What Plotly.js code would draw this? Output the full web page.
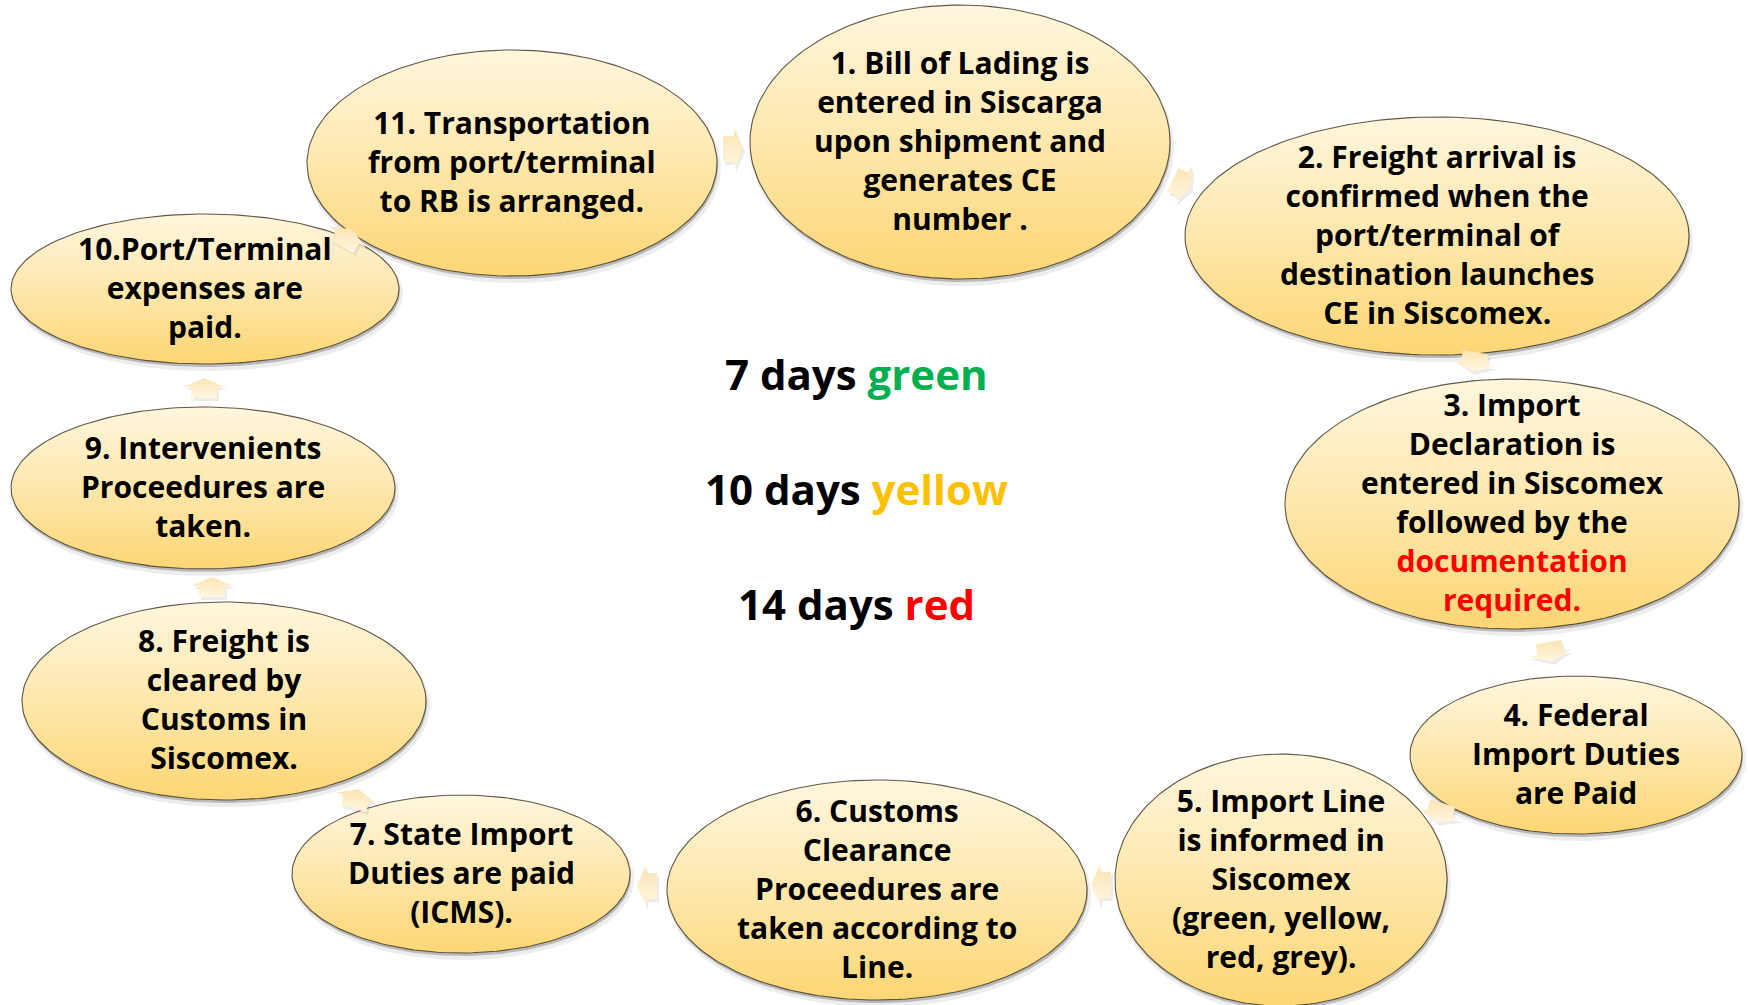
<!DOCTYPE html>
<html>
<head>
<meta charset="utf-8">
<script src="https://cdn.plot.ly/plotly-3.0.1.min.js"></script>
<style>
  html, body { margin: 0; padding: 0; background: #ffffff; }
  #chart { width: 1748px; height: 1005px; }
</style>
</head>
<body>
<div id="chart"></div>
<script>
// ---------- DATA ----------
const stepNumbers = ["1.", "2.", "3.", "4.", "5.", "6.", "7.", "8.", "9.", "10.", "11."];
const stepTexts = [
  "Bill of Lading is<br>entered in Siscarga<br>upon shipment and<br>generates CE<br>number .",
  "Freight arrival is<br>confirmed when the<br>port/terminal of<br>destination launches<br>CE in Siscomex.",
  "Import<br>Declaration is<br>entered in Siscomex<br>followed by the<br><span style='color:#FF0000'>documentation</span><br><span style='color:#FF0000'>required.</span>",
  "Federal<br>Import Duties<br>are Paid",
  "Import Line<br>is informed in<br>Siscomex<br>(green, yellow,<br>red, grey).",
  "Customs<br>Clearance<br>Proceedures are<br>taken according to<br>Line.",
  "State Import<br>Duties are paid<br>(ICMS).",
  "Freight is<br>cleared by<br>Customs in<br>Siscomex.",
  "Intervenients<br>Proceedures are<br>taken.",
  "Port/Terminal<br>expenses are<br>paid.",
  "Transportation<br>from port/terminal<br>to RB is arranged."
];
const leadDays = [7, 10, 14];
const leadNames = ["green", "yellow", "red"];
const leadColors = ["#00B050", "#FFC000", "#FF0000"];

// ---------- GEOMETRY (pixel layout of the diagram) ----------
// [centre x, centre y, radius x, radius y]
const nodeGeom = [
  [960, 142, 210, 137],
  [1437, 236, 252, 119],
  [1512, 504, 227, 125],
  [1576, 755, 166, 79],
  [1281, 880, 166, 126],
  [877, 890, 210, 110],
  [461, 874, 169, 79],
  [224, 701, 202, 99],
  [203, 488, 192, 81],
  [205, 289, 194, 75],
  [512, 163, 205, 113]
];
// connector arrows: [x, y, angle deg (0 = right, 90 = down)]
const arrowGeom = [
  [1182, 184, 25],
  [1474, 362, 100],
  [1550, 652, 80],
  [1440, 813, 105],
  [1101, 885, 180],
  [647, 886, 180],
  [356, 799, -75],
  [212, 587, -90],
  [204, 388, -90],
  [347, 238, -60],
  [733, 149, 0]
];
const legendY = [373, 488, 603];
const legendX = 856;

// ---------- BUILD ----------
const W = 1748, H = 1005;
const FONT = '"Open Sans", Lato, sans-serif';
const traces = [];
const annotations = [];

function ellipsePts(cx, cy, rx, ry) {
  const xs = [], ys = [];
  const n = 180;
  for (let i = 0; i <= n; i++) {
    const t = 2 * Math.PI * i / n;
    xs.push(cx + rx * Math.cos(t));
    ys.push(cy + ry * Math.sin(t));
  }
  return [xs, ys];
}

function arrowPts(cx, cy, ang) {
  const L = 20, sw = 13, hw = 21, hl = 9;
  const local = [[-L/2, -sw], [L/2 - hl, -sw], [L/2 - hl, -hw], [L/2, 0],
                 [L/2 - hl, hw], [L/2 - hl, sw], [-L/2, sw], [-L/2, -sw]];
  const a = ang * Math.PI / 180, c = Math.cos(a), s = Math.sin(a);
  const xs = [], ys = [];
  local.forEach(p => { xs.push(cx + p[0]*c - p[1]*s); ys.push(cy + p[0]*s + p[1]*c); });
  return [xs, ys];
}

// nodes
nodeGeom.forEach((g, i) => {
  const [cx, cy, rx, ry] = g;
  const s1 = ellipsePts(cx + 2, cy + 5, rx + 2, ry + 2);
  traces.push({x: s1[0], y: s1[1], mode: 'lines', fill: 'toself',
    fillcolor: 'rgba(0,0,0,0.07)', line: {width: 0}, hoverinfo: 'skip'});
  const s2 = ellipsePts(cx + 1, cy + 3, rx, ry);
  traces.push({x: s2[0], y: s2[1], mode: 'lines', fill: 'toself',
    fillcolor: 'rgba(0,0,0,0.22)', line: {width: 0}, hoverinfo: 'skip'});
  const e = ellipsePts(cx, cy, rx, ry);
  traces.push({x: e[0], y: e[1], mode: 'lines', fill: 'toself',
    fillgradient: {type: 'vertical', start: cy - ry, stop: cy + ry,
      colorscale: [[0, '#FFF6DE'], [0.45, '#FEE9B2'], [1, '#FDD674']]},
    line: {color: 'rgba(70,60,40,0.85)', width: 1.1}, hoverinfo: 'skip'});
  annotations.push({x: cx, y: cy - 2, xref: 'x', yref: 'y', showarrow: false,
    xanchor: 'center', yanchor: 'middle', align: 'center',
    text: stepNumbers[i] + (i === 9 ? '' : ' ') + stepTexts[i],
    font: {family: FONT, size: 30, color: '#000000', weight: 700}});
});

// arrows
arrowGeom.forEach(g => {
  const sh = arrowPts(g[0] + 2, g[1] + 3, g[2]);
  traces.push({x: sh[0], y: sh[1], mode: 'lines', fill: 'toself',
    fillcolor: 'rgba(0,0,0,0.08)', line: {width: 0}, hoverinfo: 'skip'});
  const p = arrowPts(g[0], g[1], g[2]);
  traces.push({x: p[0], y: p[1], mode: 'lines', fill: 'toself',
    fillgradient: {type: 'vertical', colorscale: [[0, '#FFF6E2'], [1, '#FCE4B2']]},
    line: {width: 0}, hoverinfo: 'skip'});
});

// centre legend
leadDays.forEach((d, i) => {
  annotations.push({x: legendX, y: legendY[i], xref: 'x', yref: 'y', showarrow: false,
    xanchor: 'center', yanchor: 'middle',
    text: d + " days <span style='color:" + leadColors[i] + "'>" + leadNames[i] + "</span>",
    font: {family: FONT, size: 42, color: '#000000', weight: 700}});
});

const layout = {
  width: W, height: H,
  margin: {l: 0, r: 0, t: 0, b: 0, pad: 0},
  paper_bgcolor: '#ffffff', plot_bgcolor: '#ffffff',
  showlegend: false,
  xaxis: {range: [0, W], visible: false, fixedrange: true},
  yaxis: {range: [H, 0], visible: false, fixedrange: true},
  annotations: annotations
};

Plotly.newPlot('chart', traces, layout, {staticPlot: true, displayModeBar: false});
</script>
</body>
</html>
